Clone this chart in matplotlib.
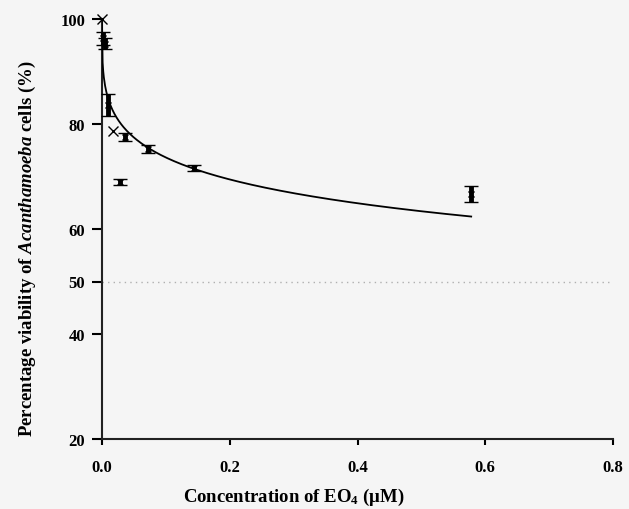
import numpy as np
import matplotlib
matplotlib.use("Agg")
import matplotlib.pyplot as plt

# ---- data ----
conc_err = [0.002, 0.004, 0.0099, 0.028, 0.036, 0.0714, 0.144, 0.578]
viab_err = [96.3, 95.3, 83.6, 69.0, 77.5, 75.2, 71.6, 66.7]
sem_err = [1.3, 1.0, 2.1, 0.6, 0.7, 0.8, 0.5, 1.5]

conc_x = [0.0, 0.017]
viab_x = [100.0, 78.7]

# fitted dose-response parameters (top, bottom, IC50, Hill slope)
fit_top = 100.0
fit_bottom = 0.0
fit_ic50 = 3.17
fit_hill = 0.297
fit_xmax = 0.578

xticks = [0.0, 0.2, 0.4, 0.6, 0.8]
xtick_labels = ["0.0", "0.2", "0.4", "0.6", "0.8"]
yticks = [20, 40, 50, 60, 80, 100]
ytick_labels = ["20", "40", "50", "60", "80", "100"]
ref_line = 50

plt.rcParams['font.family'] = ['Liberation Serif', 'DejaVu Serif']
plt.rcParams['mathtext.fontset'] = 'custom'
plt.rcParams['mathtext.it'] = 'Liberation Serif:italic:bold'
plt.rcParams['mathtext.rm'] = 'Liberation Serif:bold'

fig = plt.figure(figsize=(6.29, 5.10), dpi=100, facecolor='#f5f5f5')
ax = fig.add_axes([102/629, 70/510, 511/629, 420/510])
ax.set_facecolor('none')

# fitted curve
xf = np.linspace(1e-7, fit_xmax, 600)
yf = fit_bottom + (fit_top - fit_bottom) / (1 + (xf / fit_ic50) ** fit_hill)
ax.plot(xf, yf, color='black', lw=1.3, zorder=3)

# reference dotted line
ax.axhline(ref_line, color='#b0b0b0', lw=1.0, ls=(0, (1, 3)), zorder=1)

# error bar points
ax.errorbar(conc_err, viab_err, yerr=sem_err, fmt='x', color='black',
            ms=5, mew=1.0, ecolor='black', elinewidth=3.5, capsize=5.0,
            capthick=3.0, zorder=4, clip_on=False)
# plain x markers
ax.plot(conc_x, viab_x, 'x', color='black', ms=6.5, mew=1.0, clip_on=False, zorder=5)

ax.set_xlim(0, 0.8)
ax.set_ylim(20, 100)
ax.set_xticks(xticks)
ax.set_xticklabels(xtick_labels)
ax.set_yticks(yticks)
ax.set_yticklabels(ytick_labels)

for s in ['top', 'right']:
    ax.spines[s].set_visible(False)
for s in ['left', 'bottom']:
    ax.spines[s].set_linewidth(1.5)
    ax.spines[s].set_color('#222222')

ax.tick_params(axis='y', direction='out', length=7, width=1.5, pad=5)
ax.tick_params(axis='x', direction='out', length=4.5, width=1.5, pad=10)
for lab in ax.get_xticklabels() + ax.get_yticklabels():
    lab.set_fontweight('bold')
    lab.set_fontsize(12)

fig.text(294/629, 1 - 497/510, r"Concentration of EO$_4$ (μM)", ha='center', va='center',
         fontsize=13.5, fontweight='bold')
fig.text(27/629, 1 - 249/510, r"Percentage viability of $\it{Acanthamoeba}$ cells (%)",
         ha='center', va='center', rotation=90, fontsize=13.5, fontweight='bold')

fig.savefig('out.png', dpi=100, facecolor=fig.get_facecolor())
